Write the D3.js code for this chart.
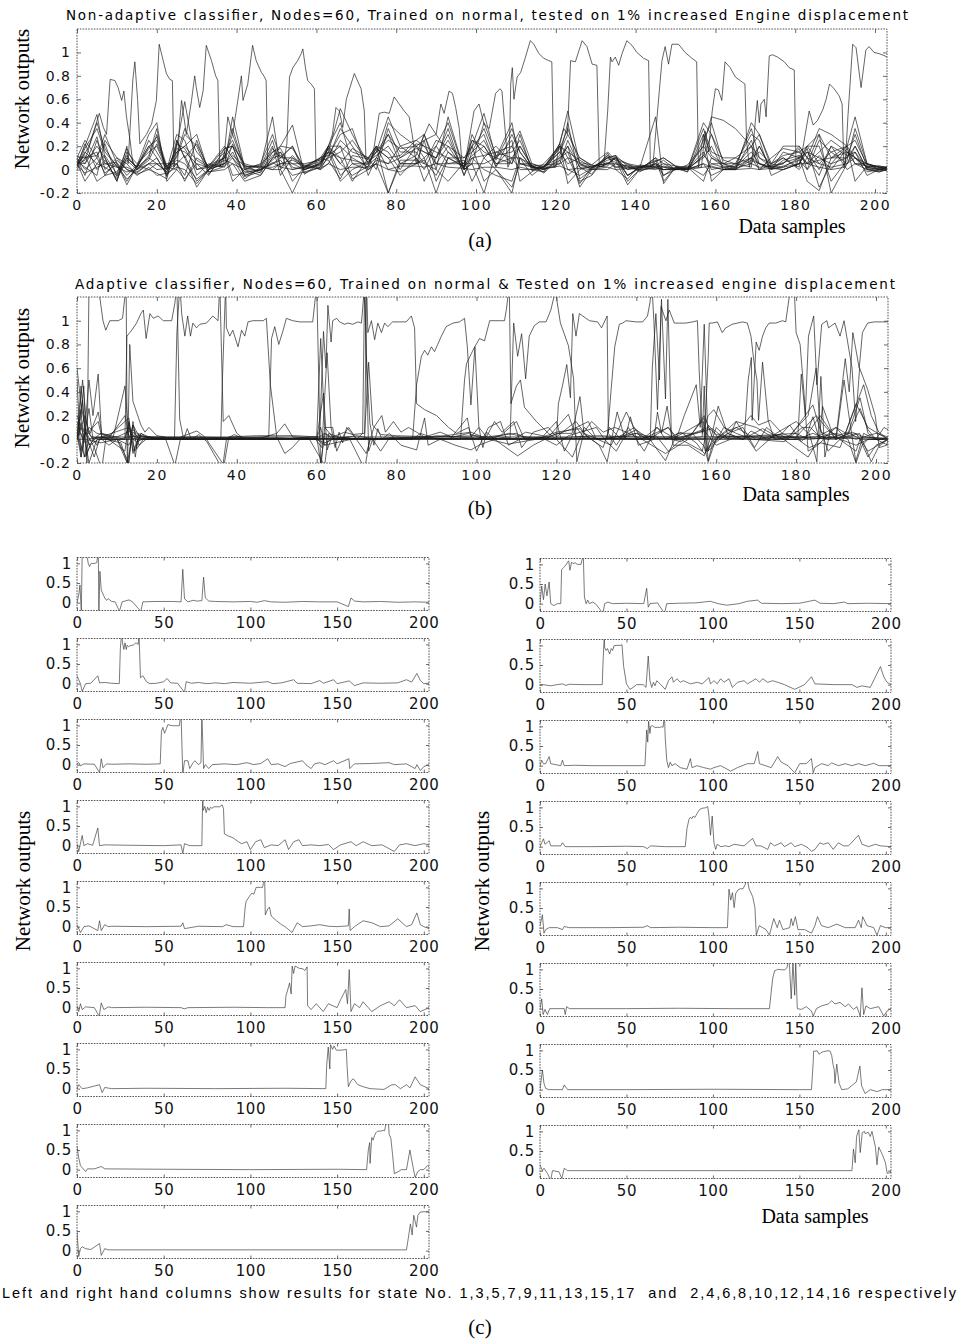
<!DOCTYPE html>
<html><head><meta charset="utf-8">
<script src="https://cdn.jsdelivr.net/npm/d3@7"></script>
<style>body{margin:0;background:#fff}svg{display:block}</style>
</head><body>
<svg id="c" width="962" height="1341"></svg>
<script>
// ---------------- tick labels ----------------
const xTicksAB = [0,20,40,60,80,100,120,140,160,180,200];
const yTicksAB = [-0.2,0,0.2,0.4,0.6,0.8,1];
const yTickLabelsAB = ["-0.2","0","0.2","0.4","0.6","0.8","1"];
const xTicksC = [0,50,100,150,200];
const yTicksC = [0,0.5,1];
const yTickLabelsC = ["0","0.5","1"];

// ---------------- (a) non-adaptive classifier: noise grid (sample positions) ----------------
const naGrid = [0,2,5,7,10,12.5,15,18,20,22.5, 25,27,30,33,37,39,42,46,49,51, 54,57,61,63,66,69,73,75,78,81, 85,87,90,93,97,99,102,105,109,111, 114,117,121,123,126,129,133,135,138,141, 145,147,150,153,157,159,162,165,169,171, 174,177,181,183,186,189,193,195,198,201,203];
// low-level outputs of each state node on naGrid
const naNoise1 = [.08,.15,.3,.2,0,.05,.02,.1,.05,-.02, .2,.58,0,.02,.1,.2,-.05,0,.05,.1, .1,0,.05,.15,.52,.3,.05,.15,.45,.2, .25,.3,0,.45,0,.2,.48,.1,.4,.05, .02,0,.22,.5,.05,.02,.1,.12,-.05,.01, .45,-.12,.02,0,.4,.3,0,0,.4,.3, .05,.2,.2,.1,.35,.3,.2,.45,.05,0,.02];
const naNoise2 = [.05,.2,.47,.1,-.1,.2,0,0,0,0, .25,.1,-.15,0,.05,.45,.02,.03,.45,0, -.2,.02,.1,.2,.1,-.1,.1,.2,-.2,.05, .05,.1,-.2,.1,.02,.3,.1,0,-.2,.1, -.05,.03,.1,.2,-.15,0,.05,.05,0,.02, .07,.1,.03,.02,-.1,.1,.05,.05,.1,.2, 0,.15,.1,-.1,-.18,.1,.15,.1,.05,.02,.01];
const naNoise3 = [.1,.25,.1,.3,.05,-.13,.03,.3,.4,-.1, 0,0,0,0,.15,.25,0,-.05,.1,.2, .38,-.03,.02,.1,.35,.2,0,.05,.4,.3, .2,.25,.3,.15,.05,.05,-.2,.15,.2,.33, .05,.01,.15,.3,.1,.04,.15,.08,-.13,0, .1,-.05,0,.04,.2,.45,.42,.35,.2,0, .1,.18,.15,.2,.3,-.2,.05,.2,0,-.02,0];
const naNoise4 = [.06,-.1,.05,.02,-.05,.1,.02,.2,.25,.02, .15,.2,.3,-.02,0,0,0,0,.02,.05, .05,.05,.08,.18,-.05,.05,.05,.18,.1,-.05, .1,-.1,.1,.3,-.05,.15,.25,.05,.1,0, 0,-.02,.2,-.12,0,.03,.05,.1,.05,-.02, .05,0,.01,-.02,.3,-.1,0,.05,.3,.25, -.05,0,.05,.15,.1,.05,.1,.3,.02,.03,.02];
const naNoise5 = [.04,.12,-.1,-.05,.08,0,-.03,.05,.1,-.05, .05,-.1,.1,.03,.2,.1,-.08,.02,0,0, .15,0,0,.12,.3,.35,-.05,.1,.05,.1, .22,.2,.05,.05,.08,-.1,.1,.2,.05,.2, .03,.04,.05,.1,-.1,-.05,.12,0,-.08,.04, .02,.05,0,.01,.1,.2,0,.02,.15,.05, .02,.05,.18,0,.25,.15,.2,-.1,.03,.01,0];
const naNoise6 = [.12,.05,.2,.1,-.1,.15,.05,.15,.2,0, .3,.25,-.05,.05,.02,.22,.04,-.03,.15,.18, 0,.03,.03,0,0,0,.08,.15,.3,.15, .15,.05,.25,.2,.1,.2,.3,.02,.3,.15, .01,.02,.18,.35,.05,0,0,.05,.02,.01, .08,-.1,.02,0,.35,.15,.1,.1,.2,.1, .05,.1,0,.1,-.05,.2,.12,.15,-.05,0,0];
const naNoise7 = [.02,.18,.35,.15,.03,-.08,0,.1,.3,.03, .1,.3,.2,-.04,.12,-.1,0,.05,.3,.1, .2,-.04,.06,.2,.2,.1,.02,.2,-.15,.25, 0,.08,-.05,.15,.02,.1,0,-.05,-.1,.1, .04,-.03,.1,.15,.08,.02,.08,.1,0,.03, .03,.02,0,.03,-.05,.05,.05,0,.25,.05, .03,.02,.1,.2,.2,-.1,.08,.35,.05,.02,.01];
const naNoise8 = [.07,.02,-.05,.25,.1,.05,-.05,.02,-.05,-.03, .02,0,-.12,0,.05,.15,-.05,0,.08,.15, -.1,.02,.1,.15,-.1,0,.07,.12,.2,.05, .05,0,0,0,.03,.25,.15,.1,.25,-.1, -.02,.05,.2,0,-.05,.01,.1,.12,-.1,0, .1,.05,.03,-.02,.25,.4,.05,.1,.05,.2, 0,.08,.12,.05,.15,.25,.15,.05,0,-.02,0];
const naNoise9 = [0,.1,.15,-.05,-.02,.12,.01,.25,.15,0, .18,.15,.05,.02,.18,.2,.05,.01,.2,-.05, .1,.04,0,.05,.25,.15,.1,0,.35,.1, .18,.15,.1,.25,0,0,0,0,.1,.2, .03,0,.05,.25,.02,.02,.06,.02,.04,.02, 0,.03,.01,.01,.15,0,.02,.03,.35,.1, .02,0,.05,.18,-.15,.05,.2,.25,.04,.03,.02];
const naNoise10 = [.09,-.05,.25,.05,.06,-.05,.04,0,.05,.05, .05,-.05,.25,-.02,0,.05,-.1,-.05,.1,.12, .05,0,.05,.18,.05,-.05,.03,.2,0,-.02, .05,.25,-.1,.1,.03,.12,.2,.05,0,0, 0,0,.08,-.05,.04,.01,.1,.06,.03,-.01, .02,0,0,0,.05,-.05,0,0,.1,0, .04,.05,.2,.1,.05,.15,.05,.1,.02,0,-.01];
const naNoise11 = [.03,.22,0,.08,-.08,.08,0,.12,.35,-.06, .22,.18,0,.04,.1,.3,.02,.04,.15,.2, .18,.02,.07,.1,.15,.25,.06,.15,.25,.18, .2,.1,.2,.4,0,.05,.4,.12,.15,.25, .02,.01,0,0,0,0,.05,.1,-.05,.02, .05,.02,.01,0,.12,.05,.02,0,.08,.05, 0,.03,.08,0,.12,0,.18,.05,.05,.02,0];
const naNoise12 = [.05,.08,.4,.18,.02,.02,-.02,.05,0,.01, .08,.05,-.08,0,.15,-.05,-.03,0,.05,.08, -.05,-.02,.02,.2,.4,.05,0,.05,-.2,.08, .08,.05,0,-.1,.06,.2,-.1,0,-.15,.05, .05,.02,.22,.1,.06,.04,0,0,0,0, .07,.1,.03,.01,.2,.1,.03,.02,.1,.15, .05,.12,.15,.05,.3,.1,.1,.2,0,.01,.02];
const naNoise13 = [.1,0,.1,-.03,.05,-.1,.03,.2,.1,-.04, .12,.35,.15,.03,.05,.12,.03,.02,.25,.02, .12,.01,.09,.08,-.08,.12,.09,.18,.1,.12, .25,.2,.15,.1,.1,.15,.35,.08,.35,.15, .02,-.02,.12,.4,-.08,0,.12,.08,.05,.03, 0,0,0,0,.3,.12,.05,.02,.2,.3, .02,.06,.1,.15,0,.2,0,.05,.03,.02,.01];
const naNoise14 = [.02,.15,.05,.12,-.04,.18,0,.08,.22,.02, 0,-.08,.05,-.05,.18,.2,-.06,-.02,.12,.15, .02,0,.04,.15,.1,.08,.04,.1,.3,.05, .12,.3,.05,.2,0,.05,.05,.1,.05,.3, -.01,.03,.15,.05,.1,.03,.05,.1,-.05,.02, .03,.08,0,.02,0,0,0,0,.1,.05, .01,0,.05,.2,.05,.02,.05,.15,.01,-.01,0];
const naNoise15 = [.06,.05,.28,0,.1,0,-.04,0,-.03,-.08, .25,.1,.22,.01,.08,.05,0,.03,0,.05, .08,.03,.1,.12,.2,-.08,0,.08,.05,.2, .1,0,.2,.05,.05,.25,.2,.03,.2,.05, .03,0,.08,.2,.02,-.04,.14,.02,.02,0, .05,-.05,.02,0,.12,.3,.08,.05,0,0, 0,0,.12,.05,.08,.1,.2,.1,-.02,0,.01];
const naNoise16 = [.11,.1,.12,.22,-.06,.1,.02,.18,.28,0, .05,.12,-.1,0,.1,.35,.01,-.01,.18,.1, .2,0,.06,.2,.05,.18,.1,.2,.15,0, .2,.15,.1,.35,-.05,.1,.12,.15,.1,.1, .02,.02,.2,.15,-.12,.02,.03,.12,.03,.02, .02,0,.01,0,.05,.02,0,.01,.05,.02, .03,.1,0,0,0,0,.15,.1,.02,0,0];
const naNoise17 = [.04,-.03,.02,.05,.02,-.02,0,.05,.05,-.02, .15,.2,.08,.02,.03,.1,-.02,0,.06,.02, 0,.02,.01,.05,0,.02,.02,.05,0,.03, .03,.02,.05,.02,.01,0,.02,.02,0,.02, 0,.01,.03,0,.01,0,.02,0,.01,0, .01,0,0,0,.02,.03,0,0,.01,0, .01,.02,.05,.05,.02,0,0,0,0,0,0];
// response of each state node inside its own segment: sample, value pairs
const naPeak1 = [1,.08, 3,.2, 5.6,.48, 6.6,.36, 7.4,.3, 8.3,.77, 9.5,.76, 10.3,.7, 11.2,.59, 11.75,.67, 12.4,.45, 13.3,.25, 14,.05];
const naPeak2 = [12.8,.05, 14,.77, 14.5,.92, 15.2,.59, 15.75,.22, 17.4,.3, 18.7,.39, 19.9,.59, 20.6,1.07, 21.6,.93, 22.4,.82, 23.25,.77, 23.9,.76, 24.3,.02];
const naPeak3 = [25.2,.05, 25.75,.42, 26.2,.59, 27.4,.3, 28.7,.59, 29.5,.8, 29.9,.7, 30.75,.53, 31.6,.67, 32.4,1.06, 33.7,.93, 34.75,.8, 35.3,.76, 35.8,.02];
const naPeak4 = [36.5,.02, 37,.16, 37.8,.45, 39,.3, 40.3,.59, 41.2,.8, 41.6,.59, 42.8,.73, 44,1.06, 44.9,.93, 46.2,.83, 47,.79, 47.4,.76, 47.8,.02];
const naPeak5 = [51.6,.02, 52.6,.22, 53.25,.79, 54.1,.87, 55.3,.93, 56.2,.99, 56.6,1.03, 57.25,.87, 57.8,.76, 58.7,.73, 59.5,.69, 59.9,.02];
const naPeak6 = [61.5,.05, 62.5,.15, 64,.3, 64.9,.53, 65.75,.5, 66.6,.36, 67.5,.6, 69.5,.82, 71.2,.69, 72,.5, 72.4,.1];
const naPeak7 = [73.5,.05, 74.5,.2, 75.75,.48, 77,.49, 78.25,.48, 79.5,.62, 80.75,.56, 82,.5, 83.25,.45, 84,.3, 85,.05];
const naPeak8 = [85.5,.05, 86.5,.25, 88.25,.39, 90,.3, 91.2,.56, 92,.48, 93.25,.67, 94.1,.65, 94.9,.53, 95.8,.35, 96.5,.05];
const naPeak9 = [97.2,.05, 98.5,.3, 99.5,.5, 100.75,.56, 102,.39, 103.3,.35, 104.9,.65, 106,.69, 106.5,.67, 107.5,.25, 108,.02];
const naPeak10 = [108.3,.05, 108.7,.73, 109.1,.87, 109.5,.6, 110.3,.79, 111.2,.83, 112.4,.96, 113.6,1.1, 114.5,1.07, 115.75,.99, 117,.95, 118.25,.93, 119,.92, 119.5,.02];
const naPeak11 = [120,.02, 120.75,.2, 122,.35, 122.9,.3, 123.7,.93, 124.9,.92, 126.6,1.1, 127.8,1.05, 129.1,.9, 130.3,.89, 130.9,.02];
const naPeak12 = [132,.02, 133,.5, 133.7,.96, 134.1,.92, 134.9,.96, 135.75,.89, 136.6,.99, 137.8,1.1, 139.1,1.06, 140.3,1.0, 142,.95, 143.25,.93, 143.7,.02];
const naPeak13 = [144.3,.02, 145.5,.5, 146.6,.93, 147.4,1.05, 148.25,.9, 149.1,1.07, 150.75,1.07, 152.4,1.0, 154.1,.95, 155.3,.92, 155.75,.02];
const naPeak14 = [156.5,.02, 157.4,.33, 158.25,.15, 159.2,.5, 160,.69, 160.75,.68, 161.6,.59, 162.4,.92, 163.7,.87, 165,.79, 166.2,.76, 167.4,.73, 167.8,.25, 168.5,.02];
const naPeak15 = [169,.02, 170.1,.45, 170.5,.59, 171,.4, 171.4,.56, 172.25,.6, 172.7,.45, 173.5,.97, 174.3,.98, 175.6,.96, 177.25,.92, 178.5,.87, 179.75,.85, 180.2,.02];
const naPeak16 = [181,.02, 182,.2, 183.5,.5, 184.5,.38, 185.6,.42, 186.9,.51, 187.75,.6, 188.6,.73, 189.75,.69, 191,.63, 191.75,.56, 192.2,.02];
const naPeak17 = [192.5,.02, 192.8,.2, 193.2,.45, 194.4,1.07, 195.25,1.04, 196.5,.7, 197.7,1.02, 198.5,1.05, 199.75,1.0, 201,.99, 202.5,.97, 203,.96];

// ---------------- (b)/(c) adaptive classifier outputs, state 1..17: sample, value pairs ----------------
const adOut1 = [0,0, 1,.2, 1.7,.45, 2.5,-.25, 3,1.3, 5.5,1.25, 6.5,1.0, 7.2,.92, 8.2,1.0, 10.3,1.0, 11.4,1.02, 12.3,1.3, 12.6,-.3, 13.2,.8, 14,.32, 15,.22, 16,.12, 17,.06, 18,.1, 20,.03, 22,.02, 24.5,-.22, 26,.02, 30,.07, 32,.02, 36.8,-.22, 38,.02, 45,.03, 55,.03, 60,.02, 61,.85, 62,.1, 64,.02, 67,.06, 69,.04, 72,.05, 73,.65, 74,.12, 76,.04, 80,.03, 90,.02, 100,.03, 104,.01, 108,.05, 112,.02, 120,.01, 130,.03, 140,.02, 150,.02, 156.5,-.1, 158,.12, 160,.04, 165,.02, 175,.03, 185,.01, 195,.02, 203,.01];
const adOut2 = [0,0, 1,.45, 2,.1, 3,.5, 4,.2, 5.3,.55, 6.2,0, 8,-.05, 10,0, 12,0, 12.5,.87, 13.7,.92, 14.9,.98, 16,1.06, 16.6,1.09, 17.3,.85, 18.25,1.06, 19.1,1.02, 20.3,1.04, 21.6,1.0, 23.7,1.0, 24.5,1.15, 25,1.3, 25.7,.17, 26.7,0, 27.6,.09, 28.6,0, 30.5,.04, 32.5,-.02, 36.4,-.25, 37.4,0, 39.3,.04, 42,0, 50,.01, 60,0, 61.7,.39, 62.6,-.09, 63.6,0, 68,.02, 72,-.25, 73.3,0, 80,.01, 90,.02, 98.6,.06, 103,0, 108,-.04, 115,0, 120,.06, 125.9,.09, 128,.01, 140,0, 150,.01, 159,.09, 162,.01, 170,0, 176,.04, 178,0, 190,.01, 203,0];
const adOut3 = [0,.2, 1,.1, 2,0, 3,-.2, 5,0, 8,.01, 12,.2, 13,.02, 16,.03, 20,.01, 24.4,0, 25,.9, 25.75,1.3, 26.2,1.06, 27,.87, 27.7,1.04, 28.4,.87, 29,.98, 29.9,.94, 30.75,.97, 32.4,.98, 34,1.04, 35.3,1.0, 35.75,1.3, 36.6,.15, 38,.2, 40,.05, 42,0, 46,.01, 50,.05, 52,.13, 54,.02, 58,.01, 62,-.22, 63,.05, 66,.01, 70,.03, 75,0, 80,.02, 85,0, 90,.03, 100,.01, 110,.05, 113,0, 118,.02, 125,.1, 127,.01, 135,0, 140,.08, 142,.01, 148,.1, 150,0, 157,.07, 160,-.05, 165,.02, 175,.01, 185,.02, 190,.1, 193,.04, 196,.26, 198,.08, 200,0, 203,.01];
const adOut4 = [0,0, 2,0, 6,-.03, 10,0, 13,.02, 15,-.02, 17,.01, 25,0, 36,0, 36.4,.5, 37.2,1.3, 37.4,.94, 38.25,.87, 39,.92, 40.3,.78, 41.2,.92, 42,.87, 42.8,.99, 44,1.0, 46.6,1.0, 47.4,1.02, 48.4,.46, 50,.02, 52,-.12, 53.9,-.07, 55.8,0, 59.7,0, 61.3,-.07, 62.6,.73, 63.6,.1, 64.6,-.07, 65.6,.06, 66.5,-.03, 67.5,.1, 69.5,.02, 72.4,-.12, 74.3,.1, 76.3,.2, 77.2,.06, 79.2,.15, 81.1,.06, 83,.1, 85,.06, 87,.02, 90.9,.06, 93.8,.02, 97.7,.18, 98.6,.02, 100.6,.1, 102.5,.02, 104.5,.15, 106.4,.06, 109.3,.15, 111.3,-.07, 114.2,.06, 118,.1, 120,.02, 123,.1, 124.9,.15, 126.9,.06, 128.8,.15, 131.7,.06, 134.6,.1, 137.5,.06, 141.4,0, 147.3,-.12, 153,0, 157,.2, 159,.02, 170,0, 180.4,0, 183.3,-.07, 186.2,-.03, 191,-.07, 196.9,.46, 198.8,.2, 200.7,.06, 203,0];
const adOut5 = [0,.02, 1,.05, 2,-.03, 4,.02, 10,.01, 13,-.2, 14,.15, 15,-.08, 17,.02, 20,.01, 30,.02, 40,.01, 48,.02, 48.7,.85, 49.5,.95, 50.5,.8, 51.6,.92, 52.4,1.02, 54,1.0, 55.75,.99, 59,.99, 60,1.3, 61,-.25, 62,.1, 64,.1, 65,-.1, 67,.05, 68,.1, 70,0, 71.5,.05, 72,1.3, 73,-.1, 74,0, 76,-.1, 78,0, 85,.02, 92,0, 98,.05, 102,0, 106,.03, 110,.15, 112,0, 116,.02, 120,-.05, 123,.03, 130,.1, 132,0, 135,-.1, 137,.02, 140,.05, 143,0, 148,.1, 150,.02, 156.8,.15, 157.3,-.1, 160,.02, 170,.03, 180,.05, 183,0, 190,.02, 195,-.1, 196,0, 198,-.15, 200,-.05, 203,0];
const adOut6 = [0,0, 1,.14, 2,.05, 3.3,.05, 5.3,.23, 6.2,.05, 12,0, 13,.14, 14,0, 20,.01, 30,0, 45,0, 60.7,0, 61.7,.91, 62.3,.6, 62.8,1.13, 63.6,.82, 64,1.0, 65,1.02, 65.75,.99, 67,.97, 67.8,.98, 69,.97, 70.3,.99, 71.2,.98, 72,1.3, 72.4,.73, 73.3,.14, 74.3,-.05, 75.3,.09, 76.3,0, 78.2,.05, 81.1,-.05, 85,-.09, 87,.18, 87.9,-.05, 90.9,0, 94.7,-.05, 98.6,-.09, 100.6,-.05, 104.5,0, 110.3,-.14, 114.2,-.05, 120,.05, 123.9,.05, 125.9,.36, 126.9,.05, 133.7,-.05, 137.5,.23, 139.5,.09, 143.4,0, 145.3,-.09, 147.3,-.18, 150.2,.05, 154,.05, 157,.18, 158,-.18, 159,-.05, 162.8,.05, 166.7,0, 168.7,.07, 172.6,0, 176.5,.05, 180.4,0, 184.2,.05, 188.1,0, 193,.06, 196,0, 203,0];
const adOut7 = [0,.05, 1,-.15, 3,.26, 4,0, 6,.05, 9,.01, 12,.45, 13,0, 16,.02, 30,.01, 50,0, 60,.02, 61,-.2, 62,.05, 65,0, 72,0, 72.5,1.3, 72.8,.9, 73.7,1.0, 74.5,.84, 75.3,.98, 76.2,.9, 77,.98, 77.8,.95, 79,.99, 80.75,.99, 82.4,.99, 83.7,1.04, 84.5,.94, 85,.3, 87,.25, 90,.2, 93,.1, 95,.05, 98,.1, 100,-.1, 103,.1, 106,.15, 108,-.05, 112,.02, 116,0, 120,.15, 122,-.1, 125,.1, 128,.15, 130,0, 135,.02, 140,0, 145,.03, 148,-.1, 152,.02, 158,.1, 161,0, 165,.1, 170,0, 176,.02, 183,-.15, 186,.02, 190,.05, 195,0, 200,.05, 203,.02];
const adOut8 = [0,0, 1,.1, 2,.2, 2.9,.06, 5.3,.15, 6.2,.02, 12,.02, 13,.1, 14.6,0, 30,0, 50,.01, 60,0, 62,-.05, 64,.02, 72,0, 80,0, 84,0, 85,.46, 86.2,.7, 87,.75, 87.8,.71, 88.7,.78, 89.5,.74, 90.3,.8, 91.2,.87, 92.4,.95, 94.1,.98, 95.75,.99, 97,1.02, 97.7,.78, 98.6,.29, 99.6,.78, 100.6,.1, 101.6,-.07, 102.5,.06, 104.5,0, 107.4,.02, 109.3,0, 112.3,.06, 118,.02, 123,.21, 124.9,.02, 127.8,.02, 131.7,-.07, 133.3,.1, 135.6,.02, 139.5,.1, 141.4,0, 145.3,.1, 147.3,0, 151.2,.06, 155,-.03, 157,-.12, 159,-.07, 161.9,.1, 163.8,.06, 166.7,.1, 169.6,-.07, 172.6,.1, 175.5,.02, 178.4,.02, 184.2,.29, 186.2,.06, 190,0, 194,.06, 196.9,.02, 203,0];
const adOut9 = [0,.05, 2,-.15, 4,0, 7,.02, 12,-.1, 13,.15, 14,-.1, 16,.05, 18,0, 20,.01, 40,0, 60,.01, 61,.1, 62,-.05, 70,.01, 84,0, 86,.05, 90,0, 96,0, 97,.5, 97.5,.64, 99.4,.77, 100.75,.85, 102,.83, 103.3,1.0, 105.75,1.0, 107,1.0, 107.5,1.1, 108.2,1.3, 108.6,.3, 110,.45, 111,.5, 112,.27, 115,.15, 118,.05, 120,0, 124,-.15, 127,.1, 130,0, 135,.02, 140,.05, 145,.01, 150,0, 156.5,.02, 157,.45, 157.5,-.1, 160,0, 165,.15, 170,.1, 175,0, 180,.02, 185,.2, 190,0, 193,.05, 196,.35, 198,.05, 200,0, 203,-.05];
const adOut10 = [0,.05, 1.4,.33, 2.3,-.14, 3.3,-.05, 5.3,0, 10,0, 13,-.05, 14,.03, 17,0, 40,0, 60,.01, 62,.05, 64,0, 80,.01, 100,0, 108.4,0, 109.3,.98, 110.3,.7, 111.3,.89, 112.3,.51, 113.2,.87, 114.5,.96, 115.75,.99, 117.4,.99, 118.6,1.09, 119.75,1.25, 121,.98, 123,.79, 124.3,.51, 125.1,-.19, 126.8,.05, 128.8,0, 130.7,-.05, 132.7,-.19, 135.2,.23, 137.2,0, 138.5,.19, 140.5,-.05, 144.4,0, 145.3,.23, 146.3,.05, 147.7,.28, 149.2,-.05, 153,-.05, 157,-.14, 159,.05, 160.5,.28, 162.8,.05, 166.7,0, 171.6,.09, 176.5,0, 182.3,0, 184.2,.19, 185.8,0, 186.6,.28, 189.1,.05, 193,0, 194.9,-.19, 196.9,.05, 199.8,0, 203,0];
const adOut11 = [0,.05, 1,-.1, 2,.1, 3,-.05, 5,.02, 10,0, 12.8,-.22, 14,.12, 15.5,-.05, 18,.02, 20,0, 40,.01, 60,0, 62,-.03, 64,0, 90,.01, 110,0, 120,0, 120.5,.3, 121.5,.45, 122.6,.63, 123.5,.35, 124.1,1.06, 124.9,.87, 125.75,1.06, 126.6,1.04, 128.25,1.0, 130.3,.99, 131.3,.94, 132.7,1.04, 133,.05, 135,-.05, 138,.1, 142,-.1, 145,.1, 150,0, 152,.2, 155,.46, 156,.1, 157,.97, 158,-.1, 160,.1, 163,0, 165,.15, 170,-.1, 175,.05, 180,.15, 183,.05, 186,.2, 190,0, 195,.05, 198,-.1, 203,0];
const adOut12 = [0,0, 1,.25, 1.8,-.15, 2.9,-.02, 4.3,-.15, 5.6,0, 14,0, 14.6,-.15, 15.4,.05, 17,0, 50,0, 80,.01, 110,0, 132.7,0, 133.7,.42, 134.6,.78, 135.75,.97, 136.6,.98, 137.4,1.0, 139.9,.99, 141.6,.99, 142.8,1.04, 143.4,1.15, 143.9,1.3, 144.4,1.0, 145.3,.25, 146.3,1.18, 147.3,.34, 147.9,1.18, 148.8,0, 151.2,-.02, 154,.05, 157,-.06, 158,-.19, 159.9,0, 162.8,.07, 166.7,.12, 168.7,.2, 170.6,.12, 173.5,.16, 176.5,.05, 178.4,.12, 181.3,-.02, 183.3,.05, 185.2,-.19, 186.2,.53, 187.2,-.15, 188.5,.07, 191,0, 195.9,.05, 198.8,-.19, 200.7,-.06, 203,0];
const adOut13 = [0,0, 1,.1, 3,0, 6,.02, 13,.1, 14.5,-.1, 16,.03, 20,0, 40,.01, 80,0, 120,.01, 143.5,0, 144,.6, 144.9,1.06, 145.8,.5, 146.2,1.12, 147.4,1.0, 148.25,1.09, 149.5,.98, 150.75,.98, 152.4,.98, 154.1,.99, 155.3,1.0, 155.75,.57, 156.5,.05, 158,.2, 159.4,.25, 162,.1, 165,.05, 169,0, 177,-.02, 181.6,.1, 183.6,.1, 186.5,0, 190,.1, 192,.02, 195,.3, 198,.1, 203,0];
const adOut14 = [0,0, 1.4,.5, 2.3,.16, 3.3,.03, 5.3,0, 13,0, 14,.12, 16,0, 50,0, 100,.01, 150,0, 157,0, 158,.69, 158.25,.98, 159,.98, 160.3,.99, 161.5,.9, 162.4,.94, 164,.97, 166.6,.99, 167.8,.98, 168.7,.87, 169.5,.64, 170.2,.5, 170.6,.16, 171.6,.65, 173,.16, 174.5,0, 178,.02, 183,.2, 185,.6, 186,.1, 188,-.1, 191,0, 195,-.05, 198,0, 203,0];
const adOut15 = [0,.6, 1,.3, 2,.1, 3,.05, 5,-.05, 6,.02, 10,.02, 14,.08, 16,.02, 50,.01, 100,0, 150,.01, 167,0, 168,.5, 168.8,.69, 169,.16, 170,.82, 170.75,.75, 171.6,.87, 172.4,.94, 173.25,.98, 174.9,.98, 176.6,1.0, 177.4,.99, 178.7,1.3, 179.5,1.3, 180,.9, 181,.8, 182,.38, 183,-.1, 185,-.06, 187,0, 190,0, 192,.5, 193,.25, 195,-.2, 196.5,-.05, 198,0, 200,0, 202,.1, 203,.08];
const adOut16 = [0,.15, 1.4,0, 2.3,.06, 4.3,-.07, 6.2,-.25, 7.2,0, 11,-.03, 12.6,-.2, 14,.06, 16,0, 60,0, 120,0, 180.4,0, 181.3,.55, 182.3,.2, 183.1,.87, 184.4,1.04, 185.2,.46, 186.4,.97, 187.7,1.0, 188.1,.94, 189.75,.98, 191,.87, 192,1.0, 194,.6, 194.9,.15, 195.9,.6, 197.9,.42, 199.8,.2, 200.8,-.07, 202.7,-.05, 203,0];
const adOut17 = [0,.5, 1,-.15, 2,.05, 3,.1, 5,.05, 8,.03, 13,.18, 14,-.12, 16,.05, 18,.02, 60,.02, 120,.02, 190,.02, 191,.3, 192.3,.68, 193.3,.4, 194.2,.9, 195.8,.6, 196.6,.9, 197.9,.98, 199.5,.99, 201.6,.99, 203,.99];

// ---------------- assemble ----------------
const naNoise = [naNoise1,naNoise2,naNoise3,naNoise4,naNoise5,naNoise6,naNoise7,naNoise8,naNoise9,naNoise10,naNoise11,naNoise12,naNoise13,naNoise14,naNoise15,naNoise16,naNoise17];
const naPeak = [naPeak1,naPeak2,naPeak3,naPeak4,naPeak5,naPeak6,naPeak7,naPeak8,naPeak9,naPeak10,naPeak11,naPeak12,naPeak13,naPeak14,naPeak15,naPeak16,naPeak17];
const adOut = [adOut1,adOut2,adOut3,adOut4,adOut5,adOut6,adOut7,adOut8,adOut9,adOut10,adOut11,adOut12,adOut13,adOut14,adOut15,adOut16,adOut17];
const pairs = a => { const r=[]; for(let i=0;i<a.length;i+=2) r.push([a[i],a[i+1]]); return r; };
const naSeries = naPeak.map((pk,k)=>{
  const p = pairs(pk), lo=p[0][0], hi=p[p.length-1][0];
  const pts = naGrid.map((gx,i)=>[gx,naNoise[k][i]]).filter(d=>d[0]<lo||d[0]>hi).concat(p);
  return pts.sort((a,b)=>a[0]-b[0]);
});
const adSeries = adOut.map(pairs);

// ---------------- drawing ----------------
const svg = d3.select("#c");
const defs = svg.append("defs");
let clipN = 0;
const TICKFONT = "DejaVu Sans, Verdana, sans-serif";
function styleAx(sel, fs, ls){
  sel.attr("font-family",TICKFONT).attr("font-size",fs);
  sel.select(".domain").remove();
  sel.selectAll(".tick line").attr("stroke","#444").attr("stroke-width",0.8);
  sel.selectAll(".tick text").attr("fill","#111").attr("letter-spacing",ls);
}
function panel(o){
  const x = d3.scaleLinear().domain(o.xd).range([o.x0,o.x1]);
  const y = d3.scaleLinear().domain(o.yd).range([o.y1,o.y0]);
  const id = "cp"+(clipN++);
  defs.append("clipPath").attr("id",id).append("rect")
    .attr("x",o.x0).attr("y",o.y0).attr("width",o.x1-o.x0).attr("height",o.y1-o.y0);
  const g = svg.append("g");
  const lg = g.append("g").attr("clip-path",`url(#${id})`);
  const line = d3.line().x(d=>x(d[0])).y(d=>y(d[1]));
  o.series.forEach(s=>lg.append("path").attr("d",line(s)).attr("fill","none")
    .attr("stroke",o.stroke).attr("stroke-opacity",o.op).attr("stroke-width",o.sw).attr("stroke-linejoin","round"));
  g.append("rect").attr("x",o.x0).attr("y",o.y0).attr("width",o.x1-o.x0).attr("height",o.y1-o.y0)
    .attr("fill","none").attr("stroke","#555").attr("stroke-width",1).attr("stroke-dasharray","1.6,1.2");
  g.append("g").attr("transform",`translate(0,${o.y1})`)
    .call(d3.axisBottom(x).tickValues(o.xt).tickFormat(d=>String(d)).tickSizeInner(-o.tk).tickSizeOuter(0).tickPadding(o.xpad))
    .call(s=>styleAx(s,o.xfs,o.xls));
  g.append("g").attr("transform",`translate(0,${o.y0})`)
    .call(d3.axisTop(x).tickValues(o.xt).tickFormat("").tickSizeInner(-o.tk).tickSizeOuter(0))
    .call(s=>styleAx(s,o.xfs,0));
  g.append("g").attr("transform",`translate(${o.x0},0)`)
    .call(d3.axisLeft(y).tickValues(o.yt).tickFormat((d,i)=>o.ytl[i]).tickSizeInner(-o.tk).tickSizeOuter(0).tickPadding(o.ypad))
    .call(s=>styleAx(s,o.yfs,o.yls));
  g.append("g").attr("transform",`translate(${o.x1},0)`)
    .call(d3.axisRight(y).tickValues(o.yt).tickFormat("").tickSizeInner(-o.tk).tickSizeOuter(0))
    .call(s=>styleAx(s,o.yfs,0));
}
function txt(x,y,s,opt){
  const t = svg.append("text").attr("x",x).attr("y",y).text(s)
    .attr("font-family",opt.ff||"Liberation Serif, Times New Roman, serif")
    .attr("font-size",opt.fs||20).attr("fill","#000")
    .attr("text-anchor",opt.anchor||"middle");
  if(opt.rot) t.attr("transform",`rotate(-90,${x},${y})`);
  if(opt.tl) t.attr("textLength",opt.tl).attr("lengthAdjust","spacing");
  return t;
}

// (a)
panel({x0:77,x1:887,y0:29,y1:193,xd:[0,203],yd:[-0.2,1.2],xt:xTicksAB,yt:yTicksAB,ytl:yTickLabelsAB,
  series:naSeries,stroke:"#1c1c1c",op:0.85,sw:0.8,tk:4,xpad:7,ypad:6,xfs:14,xls:1.6,yfs:14,yls:1.0});
txt(66,20,"Non-adaptive classifier, Nodes=60, Trained on normal, tested on 1% increased Engine displacement",{ff:TICKFONT,fs:13.5,anchor:"start",tl:842});
txt(29,99,"Network outputs",{rot:true,fs:21});
txt(792,233,"Data samples",{fs:20});
txt(480,247,"(a)",{fs:21});

// (b)
panel({x0:77,x1:888,y0:297,y1:463,xd:[0,203],yd:[-0.2,1.2],xt:xTicksAB,yt:yTicksAB,ytl:yTickLabelsAB,
  series:adSeries,stroke:"#1c1c1c",op:0.85,sw:0.8,tk:4,xpad:7,ypad:6,xfs:14,xls:1.6,yfs:14,yls:1.0});
txt(75,289,"Adaptive classifier, Nodes=60, Trained on normal & Tested on 1% increased engine displacement",{ff:TICKFONT,fs:13.5,anchor:"start",tl:820});
txt(29,378,"Network outputs",{rot:true,fs:21});
txt(796,501,"Data samples",{fs:20});
txt(480,515,"(b)",{fs:21});

// (c) small multiples: left = odd states, right = even states
adSeries.forEach((s,k)=>{
  const left = (k%2===0);
  const row = Math.floor(k/2);
  const top = left ? 557.5+81*row : 558.5+81*row;
  const x0 = left ? 77 : 540, x1 = left ? 429 : 891;
  panel({x0:x0,x1:x1,y0:top,y1:top+53,xd:[0,203],yd:[-0.2,1.15],xt:xTicksC,yt:yTicksC,ytl:yTickLabelsC,
    series:[s],stroke:"#3c3c3c",op:0.85,sw:0.8,tk:3,xpad:7,ypad:5,xfs:15,xls:0.6,yfs:15,yls:0.8});
});
txt(30,881,"Network outputs",{rot:true,fs:21});
txt(489,881,"Network outputs",{rot:true,fs:21});
txt(815,1223,"Data samples",{fs:20});
txt(2,1298,"Left and right hand columns show results for state No. 1,3,5,7,9,11,13,15,17  and  2,4,6,8,10,12,14,16 respectively",
  {ff:"Liberation Sans, Arial, sans-serif",fs:14.5,anchor:"start",tl:954}).style("white-space","pre");
txt(480,1334,"(c)",{fs:21});
</script>
</body></html>
